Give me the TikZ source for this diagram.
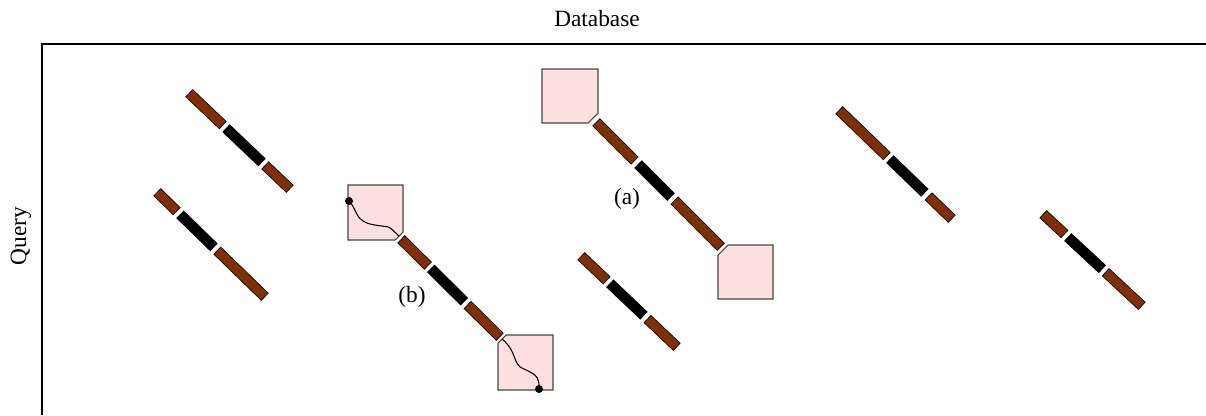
\documentclass[tikz,border=0pt]{standalone}
\usepackage{fontspec}
\setmainfont{Liberation Serif}
\definecolor{segbrown}{RGB}{128,48,0}
\definecolor{boxpink}{RGB}{255,224,224}
\definecolor{boxline}{RGB}{70,70,70}
\tikzset{
  frameline/.style={line width=1.6pt, black},
  lbl/.style={font=\fontsize{17.5}{19}\selectfont, inner sep=0pt},
  pinkbox/.style={fill=boxpink, draw=boxline, line width=0.8pt, line join=miter},
  pathcurve/.style={line width=0.8pt, black},
  enddot/.style={circle, fill=black, inner sep=0pt, minimum size=6pt},
}
\newcommand{\segpiece}[5]{%
  \draw[line width=8pt, black] ($(#1)!#3!(#2)$) -- ($(#1)!#4!(#2)$);
  \draw[line width=6.8pt, #5, shorten <=0.6pt, shorten >=0.6pt] ($(#1)!#3!(#2)$) -- ($(#1)!#4!(#2)$);}
\newcommand{\diagseg}[6]{%
  \segpiece{#1}{#2}{0}{#3}{segbrown}
  \segpiece{#1}{#2}{#4}{#5}{black}
  \segpiece{#1}{#2}{#6}{1}{segbrown}}
\usetikzlibrary{calc}
\begin{document}
\begin{tikzpicture}[x=0.75pt, y=-0.75pt]
\useasboundingbox (0,0) rectangle (1206,415);
\coordinate (fTL) at (42,44);
\coordinate (fTR) at (1206,44);
\coordinate (fBL) at (42,415);
\draw[frameline] (fTR) -- (fTL) -- (fBL);
\node[lbl] (db) at (597,19) {Database};
\node[lbl, rotate=90] (qr) at (21,236) {Query};

\coordinate (s1a) at (189,93);   \coordinate (s1b) at (290,189);
\diagseg{s1a}{s1b}{0.337}{0.366}{0.723}{0.752}
\coordinate (s2a) at (157,192);  \coordinate (s2b) at (265,297);
\diagseg{s2a}{s2b}{0.185}{0.213}{0.528}{0.556}
\coordinate (s4a) at (581,256);  \coordinate (s4b) at (677,347);
\diagseg{s4a}{s4b}{0.27}{0.30}{0.656}{0.69}
\coordinate (s6a) at (839,110);  \coordinate (s6b) at (952,219);
\diagseg{s6a}{s6b}{0.425}{0.45}{0.76}{0.79}
\coordinate (s7a) at (1043,214); \coordinate (s7b) at (1142,306);
\diagseg{s7a}{s7b}{0.22}{0.25}{0.60}{0.63}

\draw[pinkbox] (542,69) -- (598,69) -- (598,113) -- (588,123) -- (542,123) -- cycle;
\draw[pinkbox] (728,245) -- (773,245) -- (773,299) -- (718,299) -- (718,255) -- cycle;
\coordinate (s5a) at (596,122);  \coordinate (s5b) at (721,247);
\diagseg{s5a}{s5b}{0.31}{0.336}{0.60}{0.626}
\node[lbl] (la) at (627,199) {(a)};

\draw[pinkbox] (348,185) -- (403,185) -- (403,232) -- (395,240) -- (348,240) -- cycle;
\draw[pinkbox] (506,335) -- (553,335) -- (553,390) -- (498,390) -- (498,343) -- cycle;
\node[enddot] (d1) at (349,201) {};
\node[enddot] (d2) at (539,389) {};
\draw[pathcurve] (d1.center) .. controls (358,210) and (354,222) .. (375,225)
  .. controls (392,228) and (386,224) .. (399,236);
\draw[pathcurve] (502,339) .. controls (518,352) and (512,365) .. (524,369)
  .. controls (540,376) and (539,380) .. (d2.center);
\coordinate (s3a) at (401,239);  \coordinate (s3b) at (500,337);
\diagseg{s3a}{s3b}{0.274}{0.30}{0.64}{0.67}
\node[lbl] (lb) at (412,297) {(b)};
\end{tikzpicture}
\end{document}
